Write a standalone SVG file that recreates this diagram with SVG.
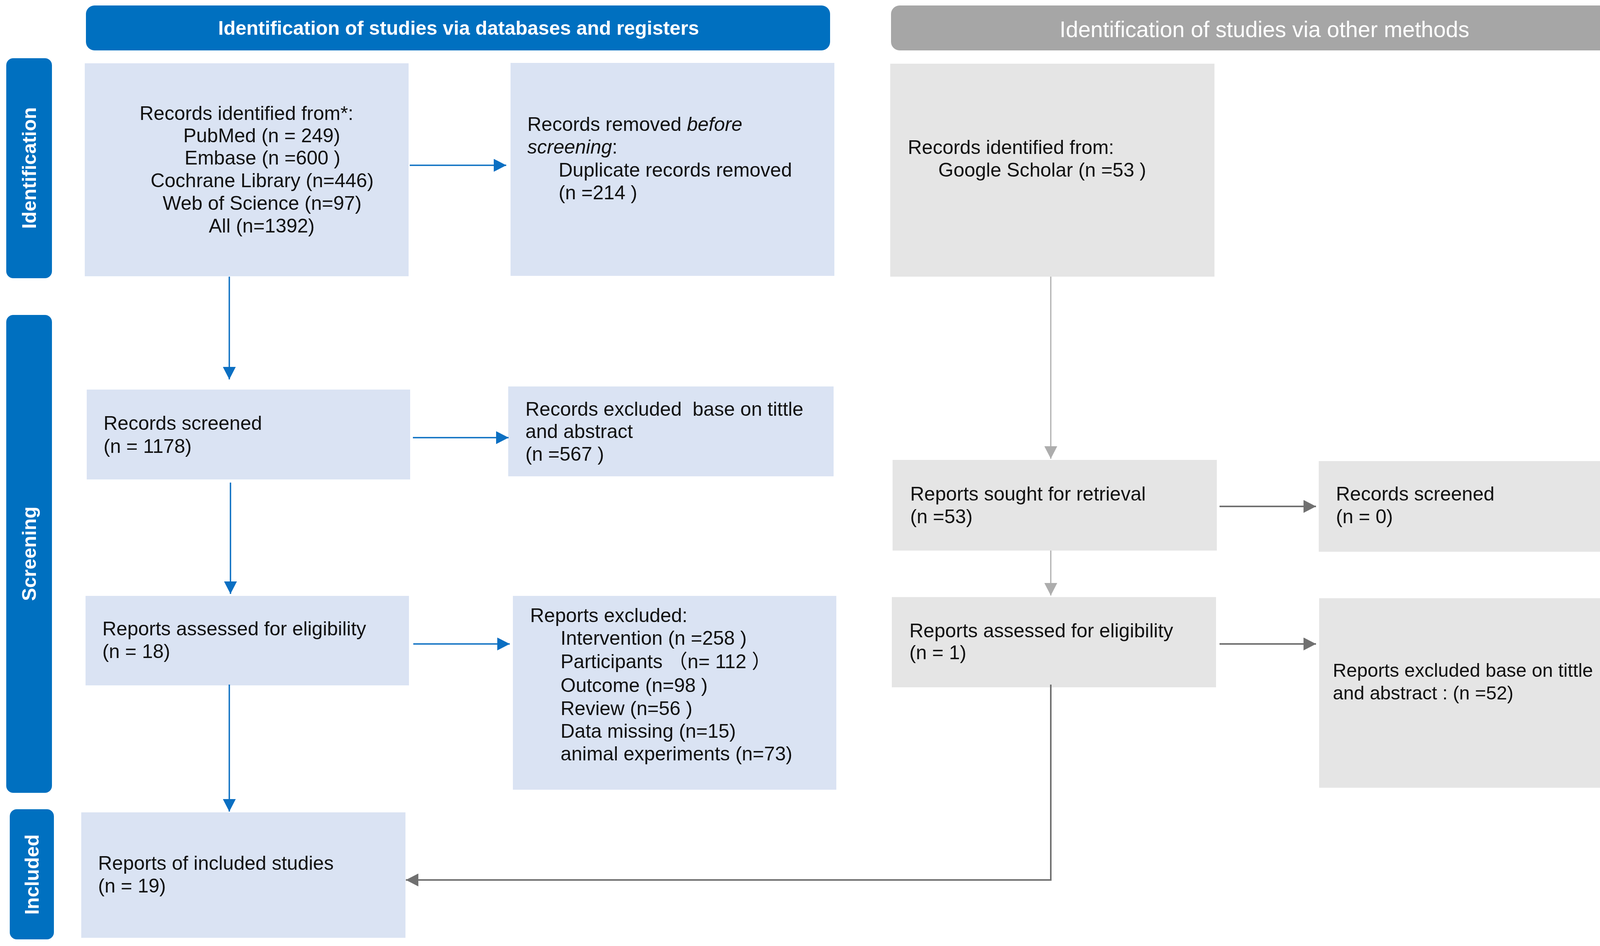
<svg xmlns="http://www.w3.org/2000/svg" width="4212" height="2421" viewBox="0 0 4212 2421">
<style>
.t{font-family:"Liberation Sans",Arial,"Noto Sans CJK SC",sans-serif;font-size:50px;fill:#111;white-space:pre}
.blue{fill:#DAE3F3}
.gray{fill:#E5E5E5}
.bar{fill:#0070C0}
.lab{font-family:"Liberation Sans",Arial,sans-serif;font-size:50px;font-weight:bold;fill:#fff;text-anchor:middle}
.cb{stroke:#0B6FC2;stroke-width:3.5;fill:none}
.cl{stroke:#ADADAD;stroke-width:3;fill:none}
.cd{stroke:#707070;stroke-width:4;fill:none}
</style>
<defs>
<marker id="ab" markerUnits="userSpaceOnUse" markerWidth="32" markerHeight="33" refX="32" refY="16.5" orient="auto" viewBox="0 0 32 33"><path d="M0,0 L32,16.5 L0,33 z" fill="#0B6FC2"/></marker>
<marker id="al" markerUnits="userSpaceOnUse" markerWidth="32" markerHeight="33" refX="32" refY="16.5" orient="auto" viewBox="0 0 32 33"><path d="M0,0 L32,16.5 L0,33 z" fill="#ADADAD"/></marker>
<marker id="ad" markerUnits="userSpaceOnUse" markerWidth="32" markerHeight="33" refX="32" refY="16.5" orient="auto" viewBox="0 0 32 33"><path d="M0,0 L32,16.5 L0,33 z" fill="#707070"/></marker>
</defs>
<rect width="4212" height="2421" fill="#fff"/>

<g id="header-db">
<rect x="220" y="14" width="1905" height="115" rx="22" class="bar"/>
<text x="1174" y="89" class="lab">Identification of studies via databases and registers</text>
</g>
<g id="header-other">
<rect x="2281" y="14" width="1910" height="115" rx="22" fill="#A6A6A6"/>
<text x="3237" y="95" style="font-family:'Liberation Sans',Arial,sans-serif;font-size:57px;fill:#fff;text-anchor:middle">Identification of studies via other methods</text>
</g>

<g id="stage-identification">
<rect x="16" y="149" width="117" height="563" rx="18" class="bar"/>
<text class="lab" transform="translate(92,430) rotate(-90)">Identification</text>
</g>
<g id="stage-screening">
<rect x="16" y="806" width="117" height="1223" rx="18" class="bar"/>
<text class="lab" transform="translate(92,1417) rotate(-90)">Screening</text>
</g>
<g id="stage-included">
<rect x="25" y="2071" width="113" height="333" rx="18" class="bar"/>
<text class="lab" transform="translate(99,2238) rotate(-90)">Included</text>
</g>

<g id="records-identified">
<rect x="217" y="162" width="829" height="545" class="blue"/>
<text class="t" x="631" y="307" text-anchor="middle">Records identified from*:</text>
<text class="t" x="670" y="364" text-anchor="middle">PubMed (n = 249)</text>
<text class="t" x="672" y="421" text-anchor="middle">Embase (n =600 )</text>
<text class="t" x="671" y="479" text-anchor="middle">Cochrane Library (n=446)</text>
<text class="t" x="671" y="537" text-anchor="middle">Web of Science (n=97)</text>
<text class="t" x="670" y="595" text-anchor="middle">All (n=1392)</text>
</g>
<g id="records-removed">
<rect x="1307" y="161" width="829" height="545" class="blue"/>
<text class="t" x="1350" y="335">Records removed <tspan font-style="italic">before</tspan></text>
<text class="t" x="1350" y="393"><tspan font-style="italic">screening</tspan>:</text>
<text class="t" x="1430" y="452">Duplicate records removed</text>
<text class="t" x="1430" y="510">(n =214 )</text>
</g>
<g id="records-other">
<rect x="2279" y="163" width="830" height="545" class="gray"/>
<text class="t" x="2324" y="394">Records identified from:</text>
<text class="t" x="2402" y="452">Google Scholar (n =53 )</text>
</g>

<g id="records-screened">
<rect x="222" y="997" width="828" height="230" class="blue"/>
<text class="t" x="265" y="1100">Records screened</text>
<text class="t" x="265" y="1159">(n = 1178)</text>
</g>
<g id="records-excluded">
<rect x="1301" y="989" width="833" height="230" class="blue"/>
<text class="t" x="1345" y="1064">Records excluded  base on tittle</text>
<text class="t" x="1345" y="1121">and abstract</text>
<text class="t" x="1345" y="1179">(n =567 )</text>
</g>
<g id="reports-assessed">
<rect x="219" y="1525" width="828" height="229" class="blue"/>
<text class="t" x="262" y="1626">Reports assessed for eligibility</text>
<text class="t" x="262" y="1684">(n = 18)</text>
</g>
<g id="reports-excluded">
<rect x="1313" y="1525" width="828" height="496" class="blue"/>
<text class="t" x="1357" y="1592">Reports excluded:</text>
<text class="t" x="1435" y="1650">Intervention (n =258 )</text>
<text class="t" x="1435" y="1710">Participants （n= 112 ）</text>
<text class="t" x="1435" y="1771">Outcome (n=98 )</text>
<text class="t" x="1435" y="1830">Review (n=56 )</text>
<text class="t" x="1435" y="1888">Data missing (n=15)</text>
<text class="t" x="1435" y="1946">animal experiments (n=73)</text>
</g>
<g id="reports-included">
<rect x="208" y="2079" width="830" height="321" class="blue"/>
<text class="t" x="251" y="2226">Reports of included studies</text>
<text class="t" x="251" y="2284">(n = 19)</text>
</g>

<g id="reports-sought">
<rect x="2285" y="1177" width="830" height="232" class="gray"/>
<text class="t" x="2330" y="1281">Reports sought for retrieval</text>
<text class="t" x="2330" y="1339">(n =53)</text>
</g>
<g id="records-screened-other">
<rect x="3376" y="1180" width="828" height="232" class="gray"/>
<text class="t" x="3420" y="1281">Records screened</text>
<text class="t" x="3420" y="1339">(n = 0)</text>
</g>
<g id="reports-assessed-other">
<rect x="2283" y="1528" width="830" height="231" class="gray"/>
<text class="t" x="2328" y="1631">Reports assessed for eligibility</text>
<text class="t" x="2328" y="1687">(n = 1)</text>
</g>
<g id="reports-excluded-other">
<rect x="3377" y="1531" width="828" height="485" class="gray"/>
<text class="t" x="3412" y="1732" style="font-size:48.5px">Reports excluded base on tittle</text>
<text class="t" x="3412" y="1790" style="font-size:48.5px">and abstract : (n =52)</text>
</g>

<g id="connectors">
<line class="cb" x1="1049" y1="423" x2="1296" y2="423" marker-end="url(#ab)"/>
<line class="cb" x1="587" y1="708" x2="587" y2="971" marker-end="url(#ab)"/>
<line class="cb" x1="1057" y1="1120" x2="1302" y2="1120" marker-end="url(#ab)"/>
<line class="cb" x1="590" y1="1235" x2="590" y2="1520" marker-end="url(#ab)"/>
<line class="cb" x1="1058" y1="1648" x2="1305" y2="1648" marker-end="url(#ab)"/>
<line class="cb" x1="587" y1="1752" x2="587" y2="2077" marker-end="url(#ab)"/>
<line class="cl" x1="2690" y1="708" x2="2690" y2="1174" marker-end="url(#al)"/>
<line class="cl" x1="2690" y1="1409" x2="2690" y2="1524" marker-end="url(#al)"/>
<line class="cd" x1="3122" y1="1296" x2="3369" y2="1296" marker-end="url(#ad)"/>
<line class="cd" x1="3122" y1="1648" x2="3369" y2="1648" marker-end="url(#ad)"/>
<polyline class="cd" points="2690,1752 2690,2252 1039,2252" marker-end="url(#ad)"/>
</g>
</svg>
